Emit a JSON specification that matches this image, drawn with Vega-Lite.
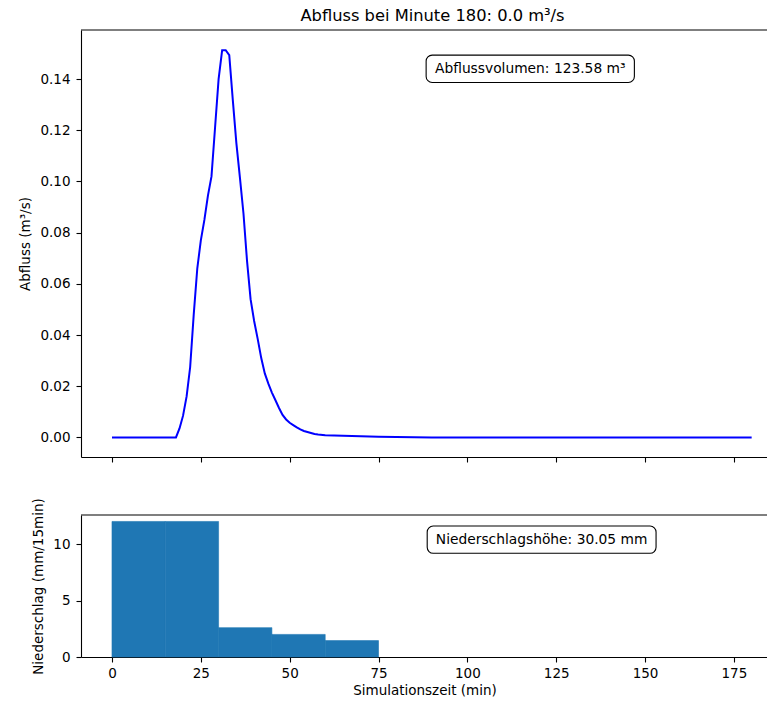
{
  "$schema": "https://vega.github.io/schema/vega-lite/v6.json",
  "padding": {"left": 18, "top": 8, "right": 0, "bottom": 3},
  "background": "white",
  "config": {
    "font": "DejaVu Sans",
    "view": {"stroke": null},
    "axis": {
      "grid": false,
      "domainColor": "black",
      "domainWidth": 1.1,
      "tickColor": "black",
      "tickWidth": 1.1,
      "tickSize": 5,
      "labelColor": "black",
      "labelFont": "DejaVu Sans",
      "labelFontSize": 13.5,
      "labelPadding": 6,
      "titleFont": "DejaVu Sans",
      "titleFontSize": 13.5,
      "titleFontWeight": "normal",
      "titleColor": "black",
      "titlePadding": 7
    },
    "title": {"font": "DejaVu Sans", "fontSize": 16.3, "fontWeight": "normal", "color": "black"}
  },
  "datasets": {
    "abfluss": [
      {"minute": 0, "q": 0}, {"minute": 5, "q": 0}, {"minute": 10, "q": 0}, {"minute": 15, "q": 0},
      {"minute": 18, "q": 0}, {"minute": 19, "q": 0.0035}, {"minute": 20, "q": 0.0085},
      {"minute": 21, "q": 0.016}, {"minute": 22, "q": 0.0275}, {"minute": 23, "q": 0.048},
      {"minute": 24, "q": 0.066}, {"minute": 25, "q": 0.077}, {"minute": 26, "q": 0.085},
      {"minute": 27, "q": 0.0945}, {"minute": 28, "q": 0.102}, {"minute": 29, "q": 0.121},
      {"minute": 30, "q": 0.140}, {"minute": 31, "q": 0.1513}, {"minute": 32, "q": 0.1513},
      {"minute": 33, "q": 0.1494}, {"minute": 34, "q": 0.1318}, {"minute": 35, "q": 0.115},
      {"minute": 36, "q": 0.1015}, {"minute": 37, "q": 0.0875}, {"minute": 38, "q": 0.069},
      {"minute": 39, "q": 0.054}, {"minute": 40, "q": 0.0455}, {"minute": 41, "q": 0.0385},
      {"minute": 42, "q": 0.031}, {"minute": 43, "q": 0.025}, {"minute": 44, "q": 0.021},
      {"minute": 45, "q": 0.0175}, {"minute": 46, "q": 0.0145}, {"minute": 47, "q": 0.0115},
      {"minute": 48, "q": 0.0088}, {"minute": 49, "q": 0.007}, {"minute": 50, "q": 0.0057},
      {"minute": 51, "q": 0.0048}, {"minute": 52, "q": 0.0039}, {"minute": 53, "q": 0.0031},
      {"minute": 54, "q": 0.0025}, {"minute": 55, "q": 0.0021}, {"minute": 56, "q": 0.0017},
      {"minute": 57, "q": 0.0013}, {"minute": 58, "q": 0.0011}, {"minute": 60, "q": 0.0008},
      {"minute": 65, "q": 0.0006}, {"minute": 70, "q": 0.0004}, {"minute": 75, "q": 0.0003},
      {"minute": 80, "q": 0.0002}, {"minute": 85, "q": 0.0001}, {"minute": 90, "q": 0},
      {"minute": 100, "q": 0}, {"minute": 120, "q": 0}, {"minute": 140, "q": 0},
      {"minute": 160, "q": 0}, {"minute": 180, "q": 0}
    ],
    "niederschlag": [
      {"start": 0, "end": 15, "mm": 12},
      {"start": 15, "end": 30, "mm": 12},
      {"start": 30, "end": 45, "mm": 2.6},
      {"start": 45, "end": 60, "mm": 2.0},
      {"start": 60, "end": 75, "mm": 1.45}
    ],
    "volumen_box": [
      {"x0": 88.4, "x1": 147.0, "y0": 0.1387, "y1": 0.1494, "xm": 117.7, "ym": 0.1440, "label": "Abflussvolumen: 123.58 m³"}
    ],
    "hoehe_box": [
      {"x0": 88.7, "x1": 153.1, "y0": 9.18, "y1": 11.59, "xm": 120.9, "ym": 10.38, "label": "Niederschlagshöhe: 30.05 mm"}
    ]
  },
  "spacing": 34,
  "vconcat": [
    {
      "width": 687,
      "height": 427,
      "title": {"text": "Abfluss bei Minute 180: 0.0 m³/s", "anchor": "middle", "dx": 8, "offset": 5},
      "layer": [
        {
          "data": {"name": "abfluss"},
          "mark": {"type": "line", "color": "#0000ff", "strokeWidth": 2, "clip": true},
          "encoding": {
            "x": {
              "field": "minute", "type": "quantitative",
              "scale": {"domain": [-8.72, 184.6], "nice": false, "zero": false},
              "axis": {"values": [0, 25, 50, 75, 100, 125, 150, 175], "labels": false, "title": null}
            },
            "y": {
              "field": "q", "type": "quantitative",
              "scale": {"domain": [-0.00766, 0.1592], "nice": false, "zero": false},
              "axis": {"values": [0, 0.02, 0.04, 0.06, 0.08, 0.1, 0.12, 0.14], "format": ".2f", "title": "Abfluss (m³/s)"}
            }
          }
        },
        {
          "data": {"values": [{}]},
          "mark": {"type": "rule", "color": "black", "strokeWidth": 1.1},
          "encoding": {"y": {"datum": 0.1592}}
        },
        {
          "data": {"name": "volumen_box"},
          "mark": {"type": "rect", "fill": "white", "stroke": "black", "strokeWidth": 1.1, "cornerRadius": 6},
          "encoding": {
            "x": {"field": "x0", "type": "quantitative"},
            "x2": {"field": "x1"},
            "y": {"field": "y0", "type": "quantitative"},
            "y2": {"field": "y1"}
          }
        },
        {
          "data": {"name": "volumen_box"},
          "mark": {"type": "text", "fontSize": 13.8, "align": "center", "baseline": "middle", "color": "black"},
          "encoding": {
            "x": {"field": "xm", "type": "quantitative"},
            "y": {"field": "ym", "type": "quantitative"},
            "text": {"field": "label"}
          }
        }
      ]
    },
    {
      "width": 687,
      "height": 142,
      "layer": [
        {
          "data": {"name": "niederschlag"},
          "mark": {"type": "rect", "color": "#1f77b4", "stroke": "#1f77b4", "strokeWidth": 0.6},
          "encoding": {
            "x": {
              "field": "start", "type": "quantitative",
              "scale": {"domain": [-8.72, 184.6], "nice": false, "zero": false},
              "axis": {"values": [0, 25, 50, 75, 100, 125, 150, 175], "title": "Simulationszeit (min)", "titlePadding": 4, "labelPadding": 4}
            },
            "x2": {"field": "end"},
            "y": {
              "field": "mm", "type": "quantitative",
              "scale": {"domain": [0, 12.57], "nice": false},
              "axis": {"values": [0, 5, 10], "title": "Niederschlag (mm/15min)"}
            },
            "y2": {"datum": 0}
          }
        },
        {
          "data": {"values": [{}]},
          "mark": {"type": "rule", "color": "black", "strokeWidth": 1.1},
          "encoding": {"y": {"datum": 12.57}}
        },
        {
          "data": {"name": "hoehe_box"},
          "mark": {"type": "rect", "fill": "white", "stroke": "black", "strokeWidth": 1.1, "cornerRadius": 6},
          "encoding": {
            "x": {"field": "x0", "type": "quantitative"},
            "x2": {"field": "x1"},
            "y": {"field": "y0", "type": "quantitative"},
            "y2": {"field": "y1"}
          }
        },
        {
          "data": {"name": "hoehe_box"},
          "mark": {"type": "text", "fontSize": 13.8, "align": "center", "baseline": "middle", "color": "black"},
          "encoding": {
            "x": {"field": "xm", "type": "quantitative"},
            "y": {"field": "ym", "type": "quantitative"},
            "text": {"field": "label"}
          }
        }
      ]
    }
  ]
}
